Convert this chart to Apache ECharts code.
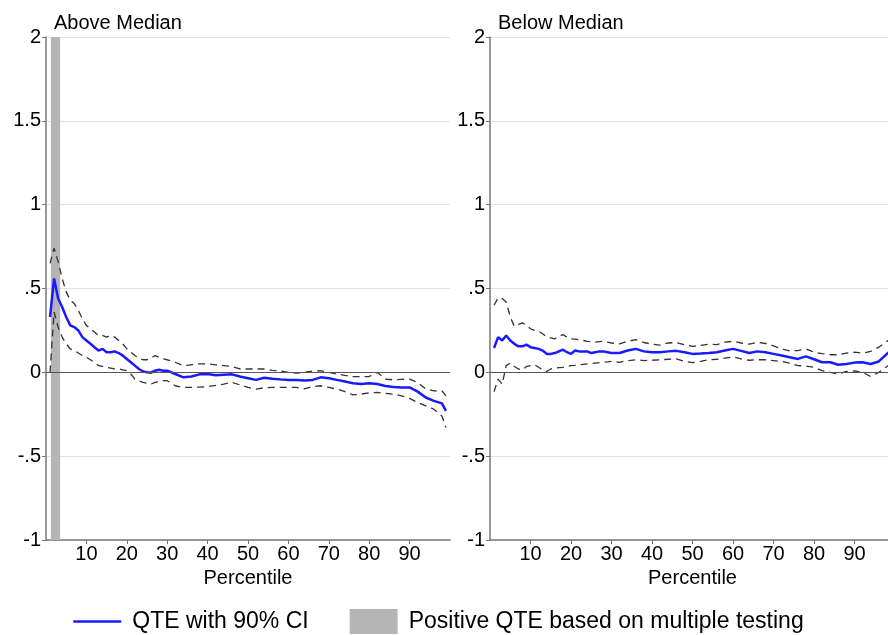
<!DOCTYPE html>
<html>
<head>
<meta charset="utf-8">
<script src="https://cdn.jsdelivr.net/npm/echarts@6/dist/echarts.min.js"></script>
<style>
  html, body { margin: 0; padding: 0; background: #fff; }
  #main { width: 888px; height: 635px; }
</style>
</head>
<body>
<div id="main"></div>
<script>
const pctl = [1, 2, 3, 4, 5, 6, 7, 8, 9, 10, 11, 12, 13, 14, 15, 16, 17, 18, 19, 20,
  21, 22, 23, 24, 25, 26, 27, 28, 29, 30, 32, 34, 36, 38, 40, 42, 44, 46, 48, 50,
  52, 54, 56, 58, 60, 62, 64, 66, 68, 70, 72, 74, 76, 78, 80, 82, 84, 86, 88, 90,
  92, 94, 96, 98, 99];

// Above median: QTE and 90% CI
const aboveQte = [0.33, 0.56, 0.44, 0.39, 0.33, 0.28, 0.27, 0.25, 0.21, 0.19, 0.17, 0.15, 0.13, 0.14, 0.12, 0.12, 0.125, 0.115, 0.10, 0.08,
  0.06, 0.04, 0.02, 0.005, 0.0, -0.002, 0.01, 0.015, 0.01, 0.01, -0.01, -0.03, -0.025, -0.012, -0.01, -0.018, -0.015, -0.012, -0.025, -0.035,
  -0.045, -0.032, -0.038, -0.042, -0.045, -0.045, -0.048, -0.045, -0.03, -0.035, -0.045, -0.055, -0.065, -0.07, -0.065, -0.07, -0.082, -0.088, -0.09, -0.09,
  -0.115, -0.15, -0.17, -0.185, -0.23];
const aboveUpper = [0.65, 0.74, 0.66, 0.56, 0.48, 0.43, 0.41, 0.37, 0.32, 0.28, 0.26, 0.24, 0.22, 0.22, 0.21, 0.22, 0.21, 0.19, 0.17, 0.14,
  0.12, 0.10, 0.085, 0.075, 0.075, 0.085, 0.10, 0.09, 0.08, 0.075, 0.06, 0.04, 0.045, 0.05, 0.05, 0.045, 0.04, 0.035, 0.02, 0.02,
  0.02, 0.02, 0.012, 0.008, 0.0, -0.005, 0.0, 0.008, 0.01, 0.0, -0.01, -0.018, -0.025, -0.025, -0.025, 0.0, -0.04, -0.045, -0.042, -0.04,
  -0.06, -0.10, -0.11, -0.11, -0.14];
const aboveLower = [0.0, 0.36, 0.27, 0.21, 0.17, 0.14, 0.13, 0.115, 0.10, 0.09, 0.075, 0.06, 0.04, 0.035, 0.03, 0.025, 0.02, 0.02, 0.015, 0.01,
  -0.01, -0.04, -0.05, -0.06, -0.065, -0.07, -0.06, -0.055, -0.05, -0.05, -0.08, -0.09, -0.09, -0.088, -0.085, -0.078, -0.07, -0.06, -0.075, -0.09,
  -0.10, -0.092, -0.09, -0.09, -0.09, -0.09, -0.098, -0.085, -0.08, -0.09, -0.10, -0.115, -0.135, -0.13, -0.122, -0.12, -0.125, -0.13, -0.14, -0.155,
  -0.18, -0.20, -0.22, -0.26, -0.33];

// Below median: QTE and 90% CI
const belowQte = [0.145, 0.21, 0.19, 0.22, 0.19, 0.17, 0.155, 0.155, 0.165, 0.15, 0.145, 0.14, 0.13, 0.11, 0.11, 0.115, 0.125, 0.135, 0.12, 0.11,
  0.13, 0.125, 0.125, 0.125, 0.115, 0.12, 0.125, 0.125, 0.12, 0.115, 0.115, 0.13, 0.14, 0.125, 0.12, 0.12, 0.125, 0.128, 0.12, 0.11,
  0.112, 0.115, 0.12, 0.13, 0.14, 0.128, 0.115, 0.125, 0.12, 0.11, 0.10, 0.09, 0.08, 0.095, 0.078, 0.06, 0.06, 0.045, 0.05, 0.058,
  0.06, 0.05, 0.065, 0.11, 0.13];
const belowUpper = [0.40, 0.445, 0.44, 0.42, 0.33, 0.275, 0.285, 0.295, 0.28, 0.26, 0.25, 0.245, 0.23, 0.21, 0.205, 0.20, 0.215, 0.225, 0.21, 0.20,
  0.198, 0.195, 0.19, 0.185, 0.182, 0.18, 0.183, 0.185, 0.18, 0.175, 0.17, 0.185, 0.195, 0.178, 0.168, 0.162, 0.175, 0.178, 0.165, 0.155,
  0.16, 0.168, 0.165, 0.18, 0.185, 0.175, 0.168, 0.18, 0.172, 0.158, 0.14, 0.128, 0.13, 0.14, 0.12, 0.112, 0.105, 0.105, 0.115, 0.12,
  0.115, 0.125, 0.15, 0.185, 0.20];
const belowLower = [-0.115, -0.04, -0.07, 0.04, 0.055, 0.035, 0.02, 0.015, 0.035, 0.04, 0.045, 0.03, 0.015, 0.005, 0.02, 0.025, 0.028, 0.03, 0.035, 0.04,
  0.042, 0.045, 0.048, 0.05, 0.052, 0.055, 0.058, 0.06, 0.062, 0.065, 0.06, 0.07, 0.075, 0.07, 0.072, 0.075, 0.078, 0.08, 0.065, 0.058,
  0.065, 0.075, 0.078, 0.085, 0.092, 0.08, 0.072, 0.075, 0.075, 0.07, 0.065, 0.055, 0.04, 0.038, 0.03, 0.01, 0.0, -0.01, 0.005, 0.008,
  0.0, -0.025, 0.0, 0.035, 0.05];

// percentiles flagged positive by multiple testing (above median)
const positiveBand = [1.2, 3.5];

const xTicks = [10, 20, 30, 40, 50, 60, 70, 80, 90];
const panelTitles = ['Above Median', 'Below Median'];
const legendNames = ['QTE with 90% CI', 'Positive QTE based on multiple testing'];

const FONT = '"Liberation Sans", Arial, Helvetica, sans-serif';

function pairs(ys) {
  return pctl.map((p, i) => [p, ys[i]]);
}

function yLabel(v) {
  if (v === 0) return '0';
  let s = String(v);
  return s.replace(/^0\./, '.').replace(/^-0\./, '-.');
}

function makeX(gi) {
  return {
    gridIndex: gi, type: 'value', min: 0, max: 100, interval: 10,
    name: 'Percentile', nameLocation: 'middle', nameGap: 26,
    nameTextStyle: { fontFamily: FONT, fontSize: 20, color: '#000' },
    axisLine: { onZero: false, lineStyle: { color: '#777', width: 1.5 } },
    axisTick: { show: true, length: 4, lineStyle: { color: '#777' }, customValues: xTicks },
    axisLabel: { fontFamily: FONT, fontSize: 20, color: '#000', margin: 4, customValues: xTicks },
    splitLine: { show: false }
  };
}

function makeY(gi) {
  return {
    gridIndex: gi, type: 'value', min: -1, max: 2, interval: 0.5,
    axisLine: { show: true, lineStyle: { color: '#777', width: 1.5 } },
    axisTick: { show: true, length: 4, lineStyle: { color: '#777' } },
    axisLabel: { fontFamily: FONT, fontSize: 20, color: '#000', margin: 5, formatter: yLabel },
    splitLine: { show: true, lineStyle: { color: '#e4e4e4', width: 1 } }
  };
}

function ciSeries(gi, ys) {
  return {
    type: 'line', xAxisIndex: gi, yAxisIndex: gi, data: pairs(ys),
    symbol: 'none', silent: true, z: 3,
    lineStyle: { color: '#333', width: 1.3, type: [7, 5] }
  };
}

function qteSeries(gi, ys) {
  return {
    name: legendNames[0], type: 'line', xAxisIndex: gi, yAxisIndex: gi, data: pairs(ys),
    symbol: 'none', z: 4, color: '#1a1aff',
    lineStyle: { color: '#1a1aff', width: 2.5 },
    markLine: {
      silent: true, symbol: 'none', label: { show: false },
      lineStyle: { color: '#555', width: 1.2, type: 'solid' },
      data: [{ yAxis: 0 }]
    }
  };
}

const chart = echarts.init(document.getElementById('main'));
chart.setOption({
  animation: false,
  title: [
    { text: panelTitles[0], left: 49, top: 8, textStyle: { fontFamily: FONT, fontSize: 20, fontWeight: 'normal', color: '#000' } },
    { text: panelTitles[1], left: 493, top: 8, textStyle: { fontFamily: FONT, fontSize: 20, fontWeight: 'normal', color: '#000' } }
  ],
  legend: {
    left: 67, top: 604, itemWidth: 48, itemHeight: 25, itemGap: 41,
    textStyle: { fontFamily: FONT, fontSize: 23, color: '#000', padding: [0, 0, 0, 6] },
    data: [
      { name: legendNames[0], itemStyle: { opacity: 0 }, lineStyle: { width: 2.5 } },
      { name: legendNames[1], icon: 'rect' }
    ]
  },
  grid: [
    { left: 46, width: 404, top: 37, bottom: 95, outerBoundsMode: 'none' },
    { left: 490, width: 405, top: 37, bottom: 95, outerBoundsMode: 'none' }
  ],
  xAxis: [makeX(0), makeX(1)],
  yAxis: [makeY(0), makeY(1)],
  series: [
    {
      name: legendNames[1], type: 'line', xAxisIndex: 0, yAxisIndex: 0, data: [],
      color: '#b5b5b5', itemStyle: { color: '#b5b5b5' }, z: 1,
      markArea: {
        silent: true, itemStyle: { color: '#b5b5b5' },
        data: [[{ xAxis: positiveBand[0] }, { xAxis: positiveBand[1] }]]
      }
    },
    ciSeries(0, aboveUpper),
    ciSeries(0, aboveLower),
    qteSeries(0, aboveQte),
    ciSeries(1, belowUpper),
    ciSeries(1, belowLower),
    qteSeries(1, belowQte)
  ]
});
window.addEventListener('resize', () => chart.resize());
</script>
</body>
</html>
